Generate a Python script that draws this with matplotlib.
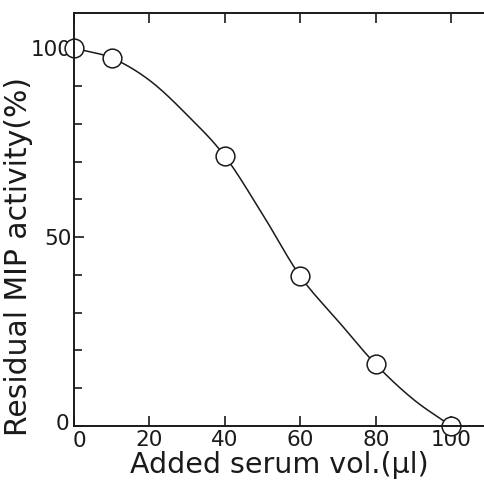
import numpy as np
import matplotlib.pyplot as plt
import matplotlib.transforms as mtransforms
from matplotlib.ticker import MultipleLocator

# measured points
serum_vol = [0, 10, 40, 60, 80, 100]
residual = [100, 97.4, 71.4, 39.6, 16.3, 0]

# hand-drawn fit curve
curve_x = [0, 10, 20, 30, 40, 50, 60, 70, 80, 90, 100]
curve_y = [100, 97.4, 91.5, 82.3, 71.4, 56.0, 39.6, 27.8, 16.3, 7.0, 0]


def catmull_rom(xs, ys, n=20):
    # smooth line through the read curve points
    px = np.array(xs, float)
    py = np.array(ys, float)
    px = np.concatenate([[2 * px[0] - px[1]], px, [2 * px[-1] - px[-2]]])
    py = np.concatenate([[2 * py[0] - py[1]], py, [2 * py[-1] - py[-2]]])
    outx, outy = [], []
    t = np.linspace(0, 1, n, endpoint=False)
    for i in range(1, len(px) - 2):
        for arr, out in ((px, outx), (py, outy)):
            p0, p1, p2, p3 = arr[i - 1:i + 3]
            out.extend(0.5 * (2 * p1 + (-p0 + p2) * t
                              + (2 * p0 - 5 * p1 + 4 * p2 - p3) * t ** 2
                              + (-p0 + 3 * p1 - 3 * p2 + p3) * t ** 3))
    outx.append(xs[-1])
    outy.append(ys[-1])
    return outx, outy


plt.rcParams['font.family'] = ['DejaVu Sans']
ink = '#1a1a1a'

fig = plt.figure(figsize=(4.84, 4.84), dpi=100)
ax = fig.add_axes([0.153, 0.12, 0.847, 0.853])

cx, cy = catmull_rom(curve_x, curve_y)
ax.plot(cx, cy, '-', color=ink, lw=1.1, zorder=1)
ax.plot(serum_vol, residual, 'o', ms=13.5, mfc='white', mec=ink, mew=1.1,
        clip_on=False, zorder=2)

ax.set_xlim(0, 108.7)
ax.set_ylim(0, 109.3)

ax.spines['right'].set_visible(False)
for s in ('left', 'bottom', 'top'):
    ax.spines[s].set_linewidth(1.4)
    ax.spines[s].set_color(ink)

ax.xaxis.set_major_locator(MultipleLocator(20))
ax.yaxis.set_major_locator(MultipleLocator(50))
ax.yaxis.set_minor_locator(MultipleLocator(10))
ax.tick_params(axis='both', which='both', direction='in', colors=ink,
               width=1.2, labelsize=15.5)
ax.tick_params(axis='x', which='major', length=7, pad=3, top=True)
ax.tick_params(axis='y', which='major', length=7, pad=2)
ax.tick_params(axis='y', which='minor', length=6)

ax.set_xticks([0, 20, 40, 60, 80, 100])
ax.set_xticklabels(['0', '20', '40', '60', '80', '100'])
ax.set_yticks([0, 50, 100])
ax.set_yticklabels(['0', '50', '100'])

# the two zeros sit apart in the corner
x0 = ax.get_xticklabels()[0]
x0.set_transform(x0.get_transform() + mtransforms.ScaledTranslation(
    0.05, -0.01, fig.dpi_scale_trans))
y0 = ax.get_yticklabels()[0]
y0.set_transform(y0.get_transform() + mtransforms.ScaledTranslation(
    -0.02, 0.04, fig.dpi_scale_trans))

ax.set_xlabel('Added serum vol.(μl)', fontsize=20.5, labelpad=0, color=ink)
ax.set_ylabel('Residual MIP activity(%)', fontsize=21.5, color=ink)
ax.yaxis.set_label_coords(-0.1, 0.41)

fig.savefig('out.png', dpi=100)
